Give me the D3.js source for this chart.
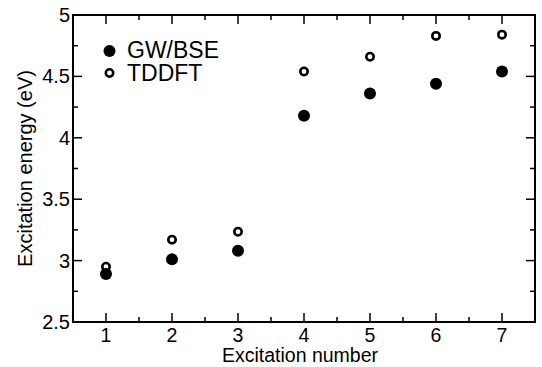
<!DOCTYPE html>
<html>
<head>
<meta charset="utf-8">
<script src="https://cdn.jsdelivr.net/npm/d3@7"></script>
<style>
  body { margin: 0; background: #fff; }
  text { font-family: "Liberation Sans", Arial, sans-serif; fill: #000; }
</style>
</head>
<body>
<div id="chart"></div>
<script>
// excitation numbers and energies (eV)
const excitations = [1, 2, 3, 4, 5, 6, 7]
const gwBse = [2.89, 3.01, 3.08, 4.18, 4.36, 4.44, 4.54]
const tddft = [2.95, 3.17, 3.235, 4.54, 4.66, 4.83, 4.84]
const yTicks = [2.5, 3, 3.5, 4, 4.5, 5]
const yMinor = [2.75, 3.25, 3.75, 4.25, 4.75]
const xMinor = [1.5, 2.5, 3.5, 4.5, 5.5, 6.5]

const width = 542, height = 367
const mLeft = 73, mRight = 535, mTop = 15, mBottom = 322

const svg = d3.select("#chart").append("svg")
  .attr("width", width)
  .attr("height", height)

const x = d3.scaleLinear().domain([0.5, 7.5]).range([mLeft, mRight])
const y = d3.scaleLinear().domain([2.5, 5]).range([mBottom, mTop])

// ticks (pointing inward, on all four sides)
function tickLines(vals, len, horizontal) {
  vals.forEach(v => {
    if (horizontal) {
      svg.append("line").attr("x1", x(v)).attr("x2", x(v)).attr("y1", mBottom).attr("y2", mBottom - len)
        .attr("stroke", "#000").attr("stroke-width", 1.5)
      svg.append("line").attr("x1", x(v)).attr("x2", x(v)).attr("y1", mTop).attr("y2", mTop + len)
        .attr("stroke", "#000").attr("stroke-width", 1.5)
    } else {
      svg.append("line").attr("y1", y(v)).attr("y2", y(v)).attr("x1", mLeft).attr("x2", mLeft + len)
        .attr("stroke", "#000").attr("stroke-width", 1.5)
      svg.append("line").attr("y1", y(v)).attr("y2", y(v)).attr("x1", mRight).attr("x2", mRight - len)
        .attr("stroke", "#000").attr("stroke-width", 1.5)
    }
  })
}
tickLines(excitations, 9, true)
tickLines(xMinor, 5, true)
tickLines(yTicks, 9, false)
tickLines(yMinor, 5, false)

svg.append("rect")
  .attr("x", mLeft).attr("y", mTop)
  .attr("width", mRight - mLeft).attr("height", mBottom - mTop)
  .attr("fill", "none").attr("stroke", "#000").attr("stroke-width", 2)

// tick labels
svg.selectAll(".xl").data(excitations).enter().append("text")
  .attr("x", d => x(d)).attr("y", 342)
  .attr("text-anchor", "middle").style("font-size", "19.5px")
  .text(d => d)

svg.selectAll(".yl").data(yTicks).enter().append("text")
  .attr("x", 70).attr("y", d => y(d) + 7)
  .attr("text-anchor", "end").style("font-size", "20px")
  .text(d => d)

// axis titles
svg.append("text")
  .attr("x", 300).attr("y", 362)
  .attr("text-anchor", "middle").style("font-size", "19.5px")
  .text("Excitation number")

svg.append("text")
  .attr("transform", "translate(32," + (mTop + mBottom) / 2 + ") rotate(-90)")
  .attr("text-anchor", "middle").style("font-size", "20px")
  .text("Excitation energy (eV)")

// data points
svg.selectAll(".gw").data(excitations).enter().append("circle")
  .attr("cx", d => x(d)).attr("cy", (d, i) => y(gwBse[i]))
  .attr("r", 6).attr("fill", "#000")

svg.selectAll(".td").data(excitations).enter().append("circle")
  .attr("cx", d => x(d)).attr("cy", (d, i) => y(tddft[i]))
  .attr("r", 3.7).attr("fill", "none").attr("stroke", "#000").attr("stroke-width", 2.6)

// legend
svg.append("circle").attr("cx", 109.5).attr("cy", 51).attr("r", 6).attr("fill", "#000")
svg.append("text").attr("x", 127).attr("y", 58).style("font-size", "23px").text("GW/BSE")
svg.append("circle").attr("cx", 109.5).attr("cy", 73).attr("r", 3.7)
  .attr("fill", "none").attr("stroke", "#000").attr("stroke-width", 2.6)
svg.append("text").attr("x", 127).attr("y", 81).style("font-size", "23px").text("TDDFT")
</script>
</body>
</html>
